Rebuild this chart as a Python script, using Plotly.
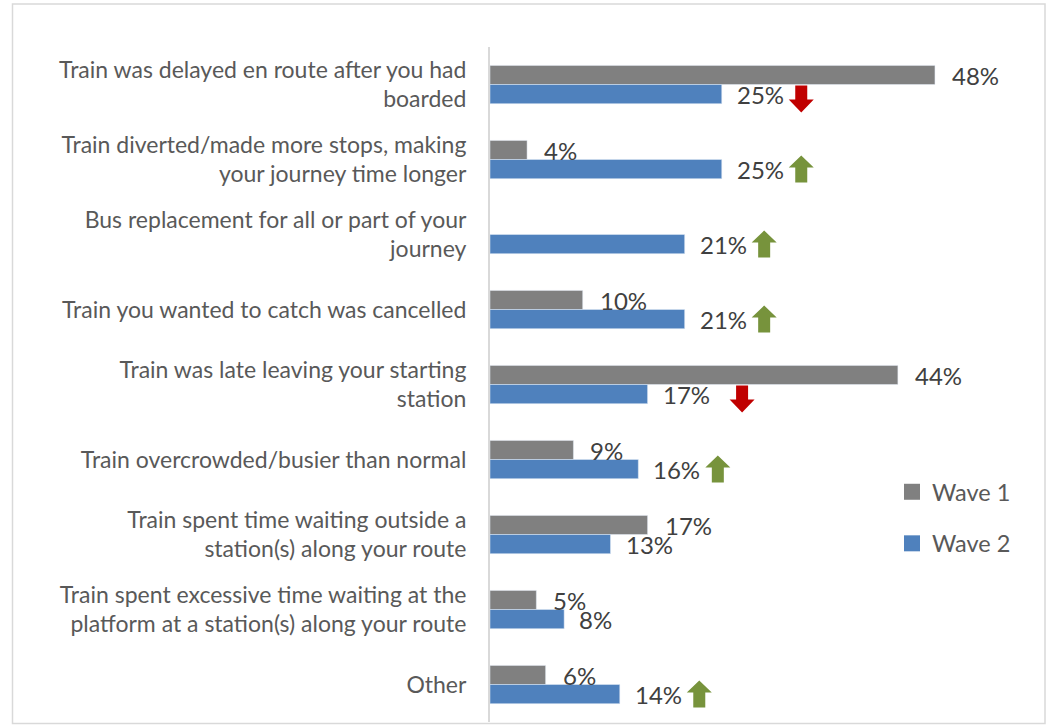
import plotly.graph_objects as go

# Reasons for delay, top to bottom
categories = [
    "Train was delayed en route after you had<br>boarded",
    "Train diverted/made more stops, making<br>your journey time longer",
    "Bus replacement for all or part of your<br>journey",
    "Train you wanted to catch was cancelled",
    "Train was late leaving your starting<br>station",
    "Train overcrowded/busier than normal",
    "Train spent time waiting outside a<br>station(s) along your route",
    "Train spent excessive time waiting at the<br>platform at a station(s) along your route",
    "Other",
]
wave1 = [48, 4, None, 10, 44, 9, 17, 5, 6]
wave2 = [25, 25, 21, 21, 17, 16, 13, 8, 14]
# Significant change from wave 1 to wave 2
change = ["down", "up", "up", "up", "down", "up", None, None, "up"]

GREY = "#808080"
BLUE = "#4F81BD"
GREEN = "#77933C"
RED = "#C00000"
FONT = "Lato"

# plot area geometry (pixels)
W, H = 1047, 725
L, R, T, B = 490, 12, 47, 3
PW = W - L - R
PH = H - T - B

pos = list(range(len(categories)))

fig = go.Figure()
fig.add_trace(go.Bar(
    y=pos, x=wave1, orientation="h", name="Wave 1",
    marker=dict(color=GREY), showlegend=False,
))
fig.add_trace(go.Bar(
    y=pos, x=wave2, orientation="h", name="Wave 2",
    marker=dict(color=BLUE), showlegend=False,
))
# legend entries with larger square keys
for name, col, grp in [("Wave 1", GREY, "w1"), ("Wave 2", BLUE, "w2")]:
    fig.add_trace(go.Scatter(
        x=[None], y=[None], mode="markers", name=name, legendgroup=grp,
        marker=dict(symbol="square", size=16, color=col),
    ))

annotations = []
for i, (a, b) in enumerate(zip(wave1, wave2)):
    if a is not None:
        annotations.append(dict(
            x=a, y=i, xref="x", yref="y", text=f"{a}%", showarrow=False,
            xanchor="left", yanchor="middle", xshift=15, yshift=9,
            font=dict(family=FONT, size=24, color="#404040"),
        ))
    annotations.append(dict(
        x=b, y=i, xref="x", yref="y", text=f"{b}%", showarrow=False,
        xanchor="left", yanchor="middle", xshift=13, yshift=-10,
        font=dict(family=FONT, size=24, color="#404040"),
    ))

shapes = []
arrow_nudge = {4: 15}
for i, (b, c) in enumerate(zip(wave2, change)):
    if c is None:
        continue
    x0 = 67 + arrow_nudge.get(i, 0)
    if c == "up":
        top, neck, bot = 4, -8, -23
        path = (f"M {x0},{neck} L {x0+12.5},{top} L {x0+25},{neck} "
                f"L {x0+18.5},{neck} L {x0+18.5},{bot} L {x0+6.5},{bot} "
                f"L {x0+6.5},{neck} Z")
        col = GREEN
    else:
        top, neck, bot = -1, -15, -28
        path = (f"M {x0+6.5},{top} L {x0+18.5},{top} L {x0+18.5},{neck} "
                f"L {x0+25},{neck} L {x0+12.5},{bot} L {x0},{neck} "
                f"L {x0+6.5},{neck} Z")
        col = RED
    shapes.append(dict(
        type="path", xref="x", yref="y", xsizemode="pixel", ysizemode="pixel",
        xanchor=b, yanchor=i, path=path, fillcolor=col, line=dict(width=0),
    ))

# outer chart border
def px_x(p):
    return (p - L) / PW

def px_y(p):
    return (H - B - p) / PH

shapes.append(dict(
    type="rect", xref="paper", yref="paper",
    x0=px_x(12.5), x1=px_x(1045), y0=px_y(4), y1=px_y(723.5),
    line=dict(color="#D9D9D9", width=1.5), fillcolor="rgba(0,0,0,0)", layer="below",
))

fig.update_layout(
    width=W, height=H,
    margin=dict(l=L, r=R, t=T, b=B, pad=0),
    paper_bgcolor="white", plot_bgcolor="white",
    barmode="group", bargap=0.49, bargroupgap=0,
    font=dict(family=FONT, size=23, color="#595959"),
    showlegend=True,
    legend=dict(
        x=px_x(892), y=px_y(470), xanchor="left", yanchor="top",
        font=dict(family=FONT, size=23.5, color="#595959"),
        traceorder="grouped", tracegroupgap=18, bgcolor="rgba(0,0,0,0)",
        itemsizing="trace", itemwidth=30,
    ),
    xaxis=dict(
        range=[0, PW / 9.27], showgrid=False, zeroline=False,
        showticklabels=False, showline=False, ticks="",
    ),
    yaxis=dict(
        range=[len(categories) - 0.5, -0.5], tickmode="array",
        tickvals=pos, ticktext=categories, showgrid=False, zeroline=False,
        showline=True, linecolor="#D9D9D9", linewidth=2, ticks="",
        ticklabelstandoff=17,
        tickfont=dict(family=FONT, size=23, color="#595959"),
    ),
    annotations=annotations,
    shapes=shapes,
)

fig.write_html("out.html")
